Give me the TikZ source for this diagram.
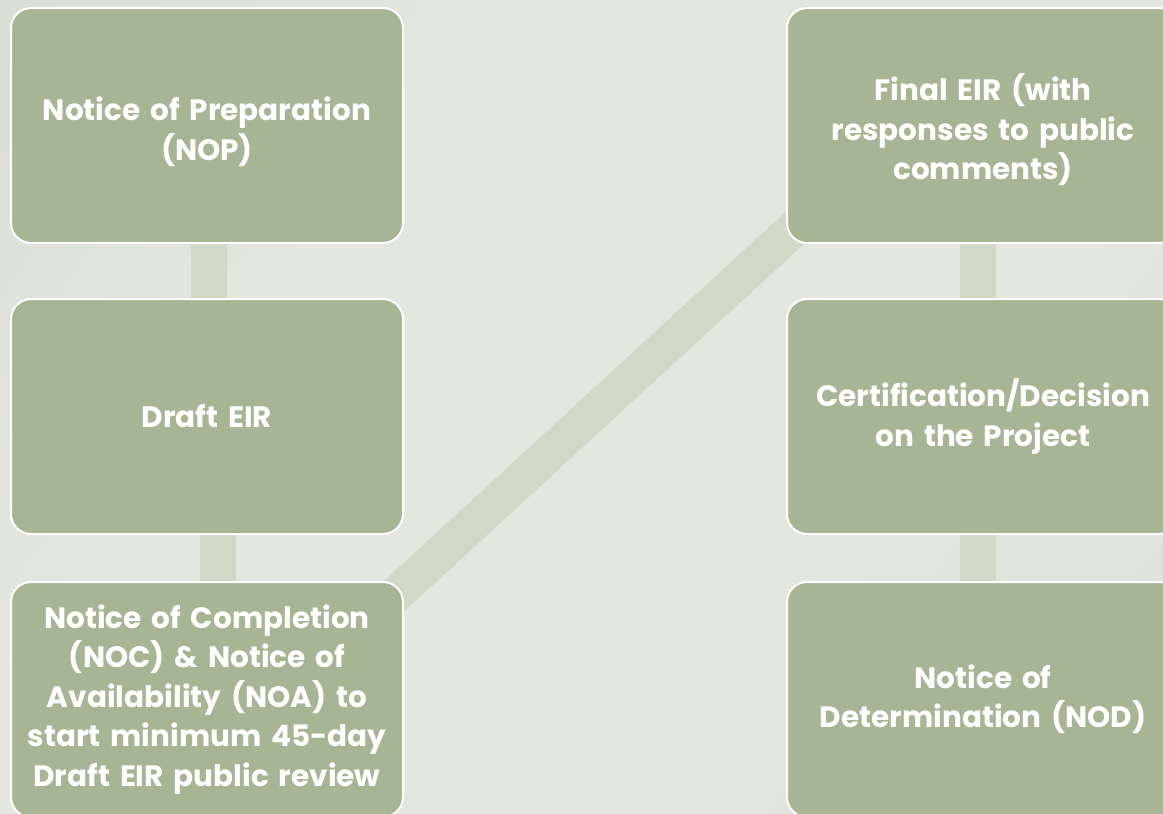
\documentclass[tikz,border=0pt]{standalone}
\usepackage{fontspec}
\setmainfont{Poppins}
\usetikzlibrary{calc}
\definecolor{boxfill}{HTML}{A6B594}
\definecolor{linkc}{HTML}{D0D8C7}
\definecolor{bgA}{HTML}{D2D8CD}
\definecolor{bgB}{HTML}{E3E7DE}
\definecolor{bgC}{HTML}{D6DBD0}
\pgfdeclarehorizontalshading{bgshade}{100bp}{color(0bp)=(bgA); color(35bp)=(bgB); color(65bp)=(bgB); color(100bp)=(bgC)}
\pgfdeclarelayer{bg}
\pgfsetlayers{bg,main}
\tikzset{
  stepbox/.style={draw=white, line width=2pt, fill=boxfill, rounded corners=20pt,
    minimum width=392pt, minimum height=235pt, text width=376pt, align=center,
    text=white, font=\bfseries\fontsize{29.5}{39.5}\selectfont, inner sep=0pt},
  lowtext/.style={execute at begin node={\rule{0pt}{36pt}}},
  link/.style={draw=linkc, line width=36pt}
}
\begin{document}
\begin{tikzpicture}[x=1pt,y=-1pt]
\useasboundingbox (0,0) rectangle (1163,814);
\clip (0,0) rectangle (1163,814);
\node[stepbox, lowtext] (b1) at (207,125.5) {Notice of Preparation\\(NOP)};
\node[stepbox] (b2) at (207,416.5) {Draft EIR};
\node[stepbox] (b3) at (207,699.5) {Notice of Completion\\(NOC) \& Notice of\\Availability (NOA) to\\start minimum 45-day\\Draft EIR public review};
\node[stepbox, lowtext] (b4) at (983,125.5) {Final EIR (with\\responses to public\\comments)};
\node[stepbox] (b5) at (983,416.5) {Certification/Decision\\on the Project};
\node[stepbox] (b6) at (983,699.5) {Notice of\\Determination (NOD)};
\coordinate (dA) at ($(b3.north east)+(0,6)$);
\coordinate (dB) at ($(b4.south west)+(0,-8)$);
\begin{pgfonlayer}{bg}
\shade[shading=bgshade, shading angle=-35] (0,0) rectangle (1163,814);
\draw[link] ($(b1.south)+(2,0)$) -- ($(b2.north)+(2,0)$);
\draw[link] ($(b2.south)+(11,0)$) -- ($(b3.north)+(11,0)$);
\draw[link] ($(dA)!-60pt!(dB)$) -- ($(dB)!-60pt!(dA)$);
\draw[link] ($(b4.south)+(-5,0)$) -- ($(b5.north)+(-5,0)$);
\draw[link] ($(b5.south)+(-5,0)$) -- ($(b6.north)+(-5,0)$);
\end{pgfonlayer}
\end{tikzpicture}
\end{document}
